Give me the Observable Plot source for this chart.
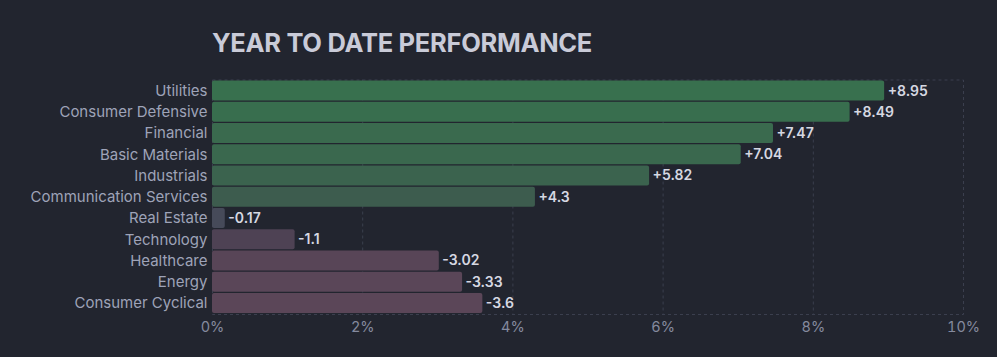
<!DOCTYPE html>
<html>
<head>
<meta charset="utf-8">
<script src="https://cdn.jsdelivr.net/npm/d3@7"></script>
<script src="https://cdn.jsdelivr.net/npm/@observablehq/plot@0.6"></script>
<style>
  html, body { margin: 0; padding: 0; background: #22252f; }
  #wrap { width: 997px; height: 357px; overflow: hidden; }
  #title { height: 70px; position: relative; }
  #title span { position: absolute; left: 212px; top: 28px; font-family: Inter, sans-serif; font-weight: 700; font-size: 25.5px; line-height: 30px; color: #c9cbd8; letter-spacing: -0.3px; }
  #chart svg { display: block; }
</style>
</head>
<body>
<div id="wrap">
  <div id="title"><span>YEAR TO DATE PERFORMANCE</span></div>
  <div id="chart"></div>
</div>
<script>
const sectors = ["Utilities", "Consumer Defensive", "Financial", "Basic Materials", "Industrials", "Communication Services", "Real Estate", "Technology", "Healthcare", "Energy", "Consumer Cyclical"];
const values = [8.95, 8.49, 7.47, 7.04, 5.82, 4.3, -0.17, -1.1, -3.02, -3.33, -3.6];
const xTicks = [0, 2, 4, 6, 8, 10];

const data = sectors.map((s, i) => ({ sector: s, value: values[i], size: Math.abs(values[i]) }));
const fmt = v => (v > 0 ? "+" : "-") + Math.abs(v);

const chart = Plot.plot({
  width: 997,
  height: 287,
  marginTop: 9.5,
  marginBottom: 43,
  marginLeft: 212,
  marginRight: 34,
  style: { background: "transparent", fontFamily: "Inter, sans-serif", color: "#9a9fb3" },
  x: { domain: [0, 10], axis: null },
  y: { domain: sectors, axis: null, label: null, round: false, paddingInner: 0.06, paddingOuter: 0.05 },
  color: {
    type: "linear",
    domain: [-3.6, -1.1, -0.17, 4.3, 8.95],
    range: ["#5b4658", "#4e4254", "#464a59", "#3d5c4e", "#38704e"],
    interpolate: "rgb"
  },
  marks: [
    Plot.frame({ stroke: "#3b3f4e", strokeDasharray: "3,3" }),
    Plot.gridX([2, 4, 6, 8], { stroke: "#3b3f4e", strokeOpacity: 1, strokeDasharray: "3,3" }),
    Plot.barX(data, { x: "size", y: "sector", fill: "value", rx: 2 }),
    Plot.text(data, { x: "size", y: "sector", text: d => fmt(d.value), textAnchor: "start", dx: 3, fill: "#d6d8e2", fontSize: 14, fontWeight: 600 }),
    Plot.axisY({ tickSize: 0, tickPadding: 5, fontSize: 15, fill: "#9ea3b8", label: null }),
    Plot.axisX({ ticks: xTicks, tickFormat: d => d + "%", tickSize: 0, tickPadding: 7, fontSize: 14.5, fill: "#858a9e", label: null })
  ]
});
document.getElementById("chart").appendChild(chart);
</script>
</body>
</html>
